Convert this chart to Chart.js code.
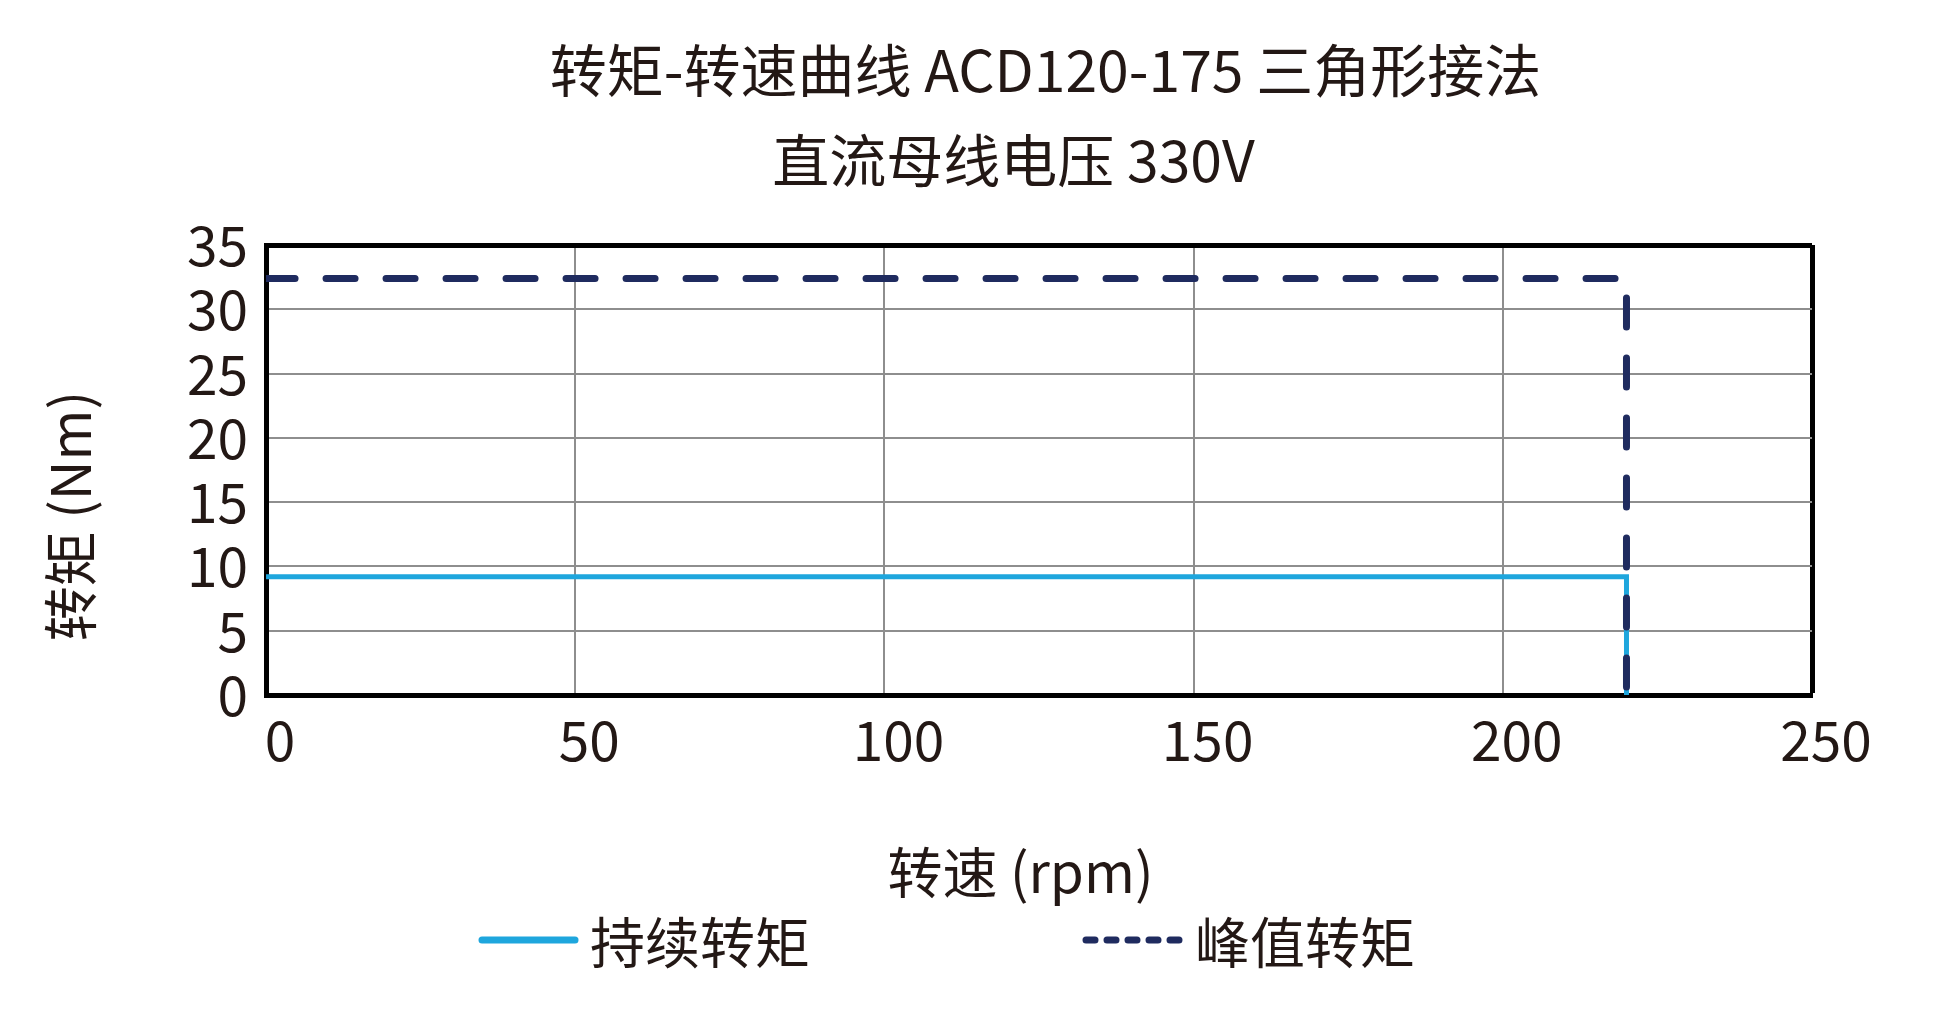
<!DOCTYPE html>
<html>
<head>
<meta charset="utf-8">
<script src="https://cdn.jsdelivr.net/npm/chart.js@4/dist/chart.umd.min.js"></script>
<style>
  html, body { margin: 0; padding: 0; background: #fff; }
  #wrap { width: 1936px; height: 1032px; }
</style>
</head>
<body>
<div id="wrap"><canvas id="torque-chart"></canvas></div>
<script>
// torque-speed curve, values
const speedRpm = [0, 220, 220];
const continuousTorque = [9.2, 9.2, 0];
const peakTorque = [32.4, 32.4, 0];
const seriesNames = ['持续转矩', '峰值转矩'];
// extra spaces only nudge the centred text the way the original sits
const titleLines = [' 转矩-转速曲线 ACD120-175 三角形接法', '直流母线电压 330V    '];
const xTitle = '转速 (rpm)   ';
const yTitle = '转矩 (Nm)\u3000   ';
const xTicks = [0, 50, 100, 150, 200, 250];
const yTicks = [0, 5, 10, 15, 20, 25, 30, 35];

const FONT = "'Noto Sans CJK SC', 'Noto Sans', sans-serif";
const TEXT = '#231815';
const GRID = '#8e8e8e';

const toPoints = (xs, ys) => xs.map((x, i) => ({ x: x, y: ys[i] }));

// legend under the axis title, drawn from the dataset styles
const bottomLegend = {
    id: 'bottomLegend',
    afterDraw(chart) {
        const ctx = chart.ctx;
        const y = 940;
        const items = [
            { x: 479, w: 99, dash: [] },
            { x: 1083, w: 104, dash: [9, 12] }
        ];
        ctx.save();
        chart.data.datasets.forEach((ds, i) => {
            const it = items[i];
            ctx.beginPath();
            ctx.strokeStyle = ds.borderColor;
            ctx.lineWidth = 7;
            ctx.lineCap = 'round';
            ctx.setLineDash(it.dash);
            ctx.moveTo(it.x + 3, y);
            ctx.lineTo(it.x + it.w - 3, y);
            ctx.stroke();
            ctx.setLineDash([]);
            ctx.fillStyle = TEXT;
            ctx.font = '55px ' + FONT;
            ctx.textBaseline = 'middle';
            ctx.textAlign = 'left';
            ctx.fillText(ds.label, it.x + it.w + (i === 0 ? 12 : 8), y + 2);
        });
        ctx.restore();
    }
};

const ctx = document.getElementById('torque-chart').getContext('2d');
new Chart(ctx, {
    type: 'line',
    data: {
        datasets: [{
            label: seriesNames[0],
            data: toPoints(speedRpm, continuousTorque),
            borderColor: '#1ea6dd',
            borderWidth: 5,
            pointRadius: 0,
            fill: false,
            order: 2
        }, {
            label: seriesNames[1],
            data: toPoints(speedRpm, peakTorque),
            borderColor: '#1f2b5f',
            borderWidth: 7,
            borderDash: [29, 31],
            borderCapStyle: 'round',
            pointRadius: 0,
            fill: false,
            order: 1
        }]
    },
    options: {
        responsive: true,
        maintainAspectRatio: false,
        animation: false,
        devicePixelRatio: 1,
        layout: {
            padding: { left: 0, right: 124, top: 0, bottom: 127 }
        },
        plugins: {
            legend: { display: false },
            tooltip: { enabled: false },
            title: {
                display: true,
                fullSize: false,
                text: titleLines,
                color: TEXT,
                font: { family: FONT, size: 57, weight: 'normal', lineHeight: 1.58 },
                padding: { top: 25, bottom: 40 }
            }
        },
        scales: {
            x: {
                type: 'linear',
                min: 0,
                max: 250,
                afterBuildTicks: axis => { axis.ticks = xTicks.map(v => ({ value: v })); },
                ticks: {
                    color: TEXT,
                    font: { family: FONT, size: 55 },
                    padding: 12,
                    labelOffset: 14,
                    autoSkip: false,
                    maxRotation: 0
                },
                grid: {
                    drawTicks: false,
                    color: c => c.tick && c.tick.value === 250 ? '#000' : GRID,
                    lineWidth: c => c.tick && c.tick.value === 250 ? 5 : 2
                },
                border: { color: '#000', width: 5 },
                title: {
                    display: true,
                    text: xTitle,
                    color: TEXT,
                    font: { family: FONT, size: 55 },
                    padding: { top: 54, bottom: 0 }
                }
            },
            y: {
                min: 0,
                max: 35,
                afterBuildTicks: axis => { axis.ticks = yTicks.map(v => ({ value: v })); },
                ticks: {
                    color: TEXT,
                    font: { family: FONT, size: 55 },
                    padding: 18,
                    autoSkip: false
                },
                grid: {
                    drawTicks: false,
                    color: c => c.tick && c.tick.value === 35 ? '#000' : GRID,
                    lineWidth: c => c.tick && c.tick.value === 35 ? 5 : 2
                },
                border: { color: '#000', width: 5 },
                title: {
                    display: true,
                    text: yTitle,
                    color: TEXT,
                    font: { family: FONT, size: 55 },
                    padding: { top: 37, bottom: 66 }
                }
            }
        }
    },
    plugins: [bottomLegend]
});
</script>
</body>
</html>
